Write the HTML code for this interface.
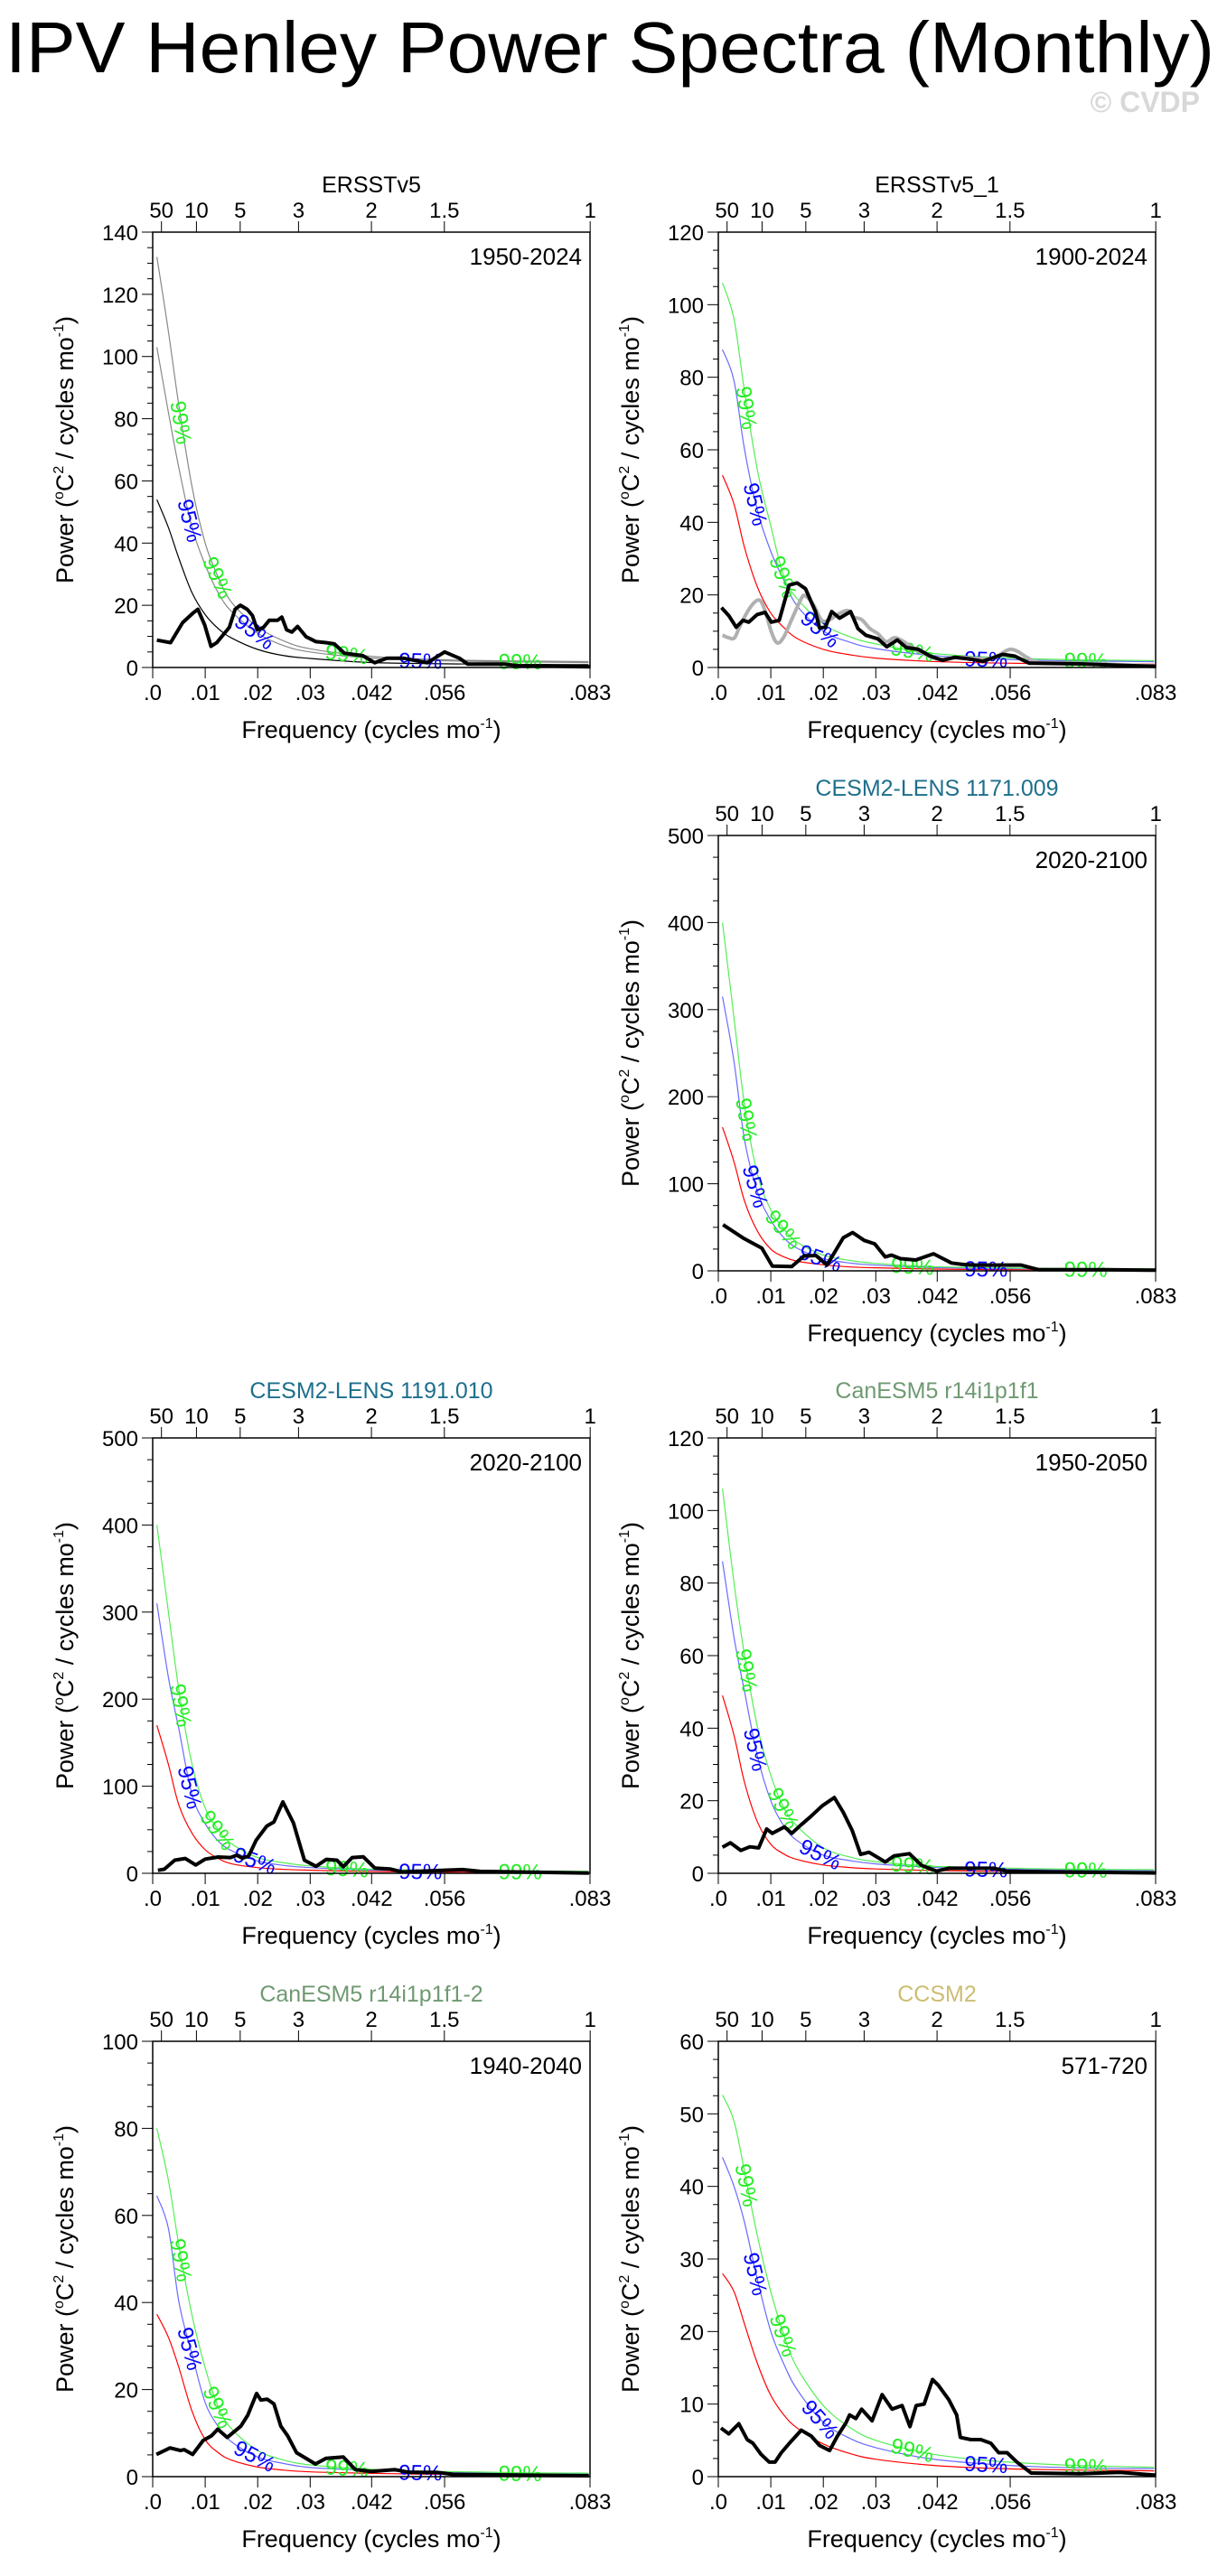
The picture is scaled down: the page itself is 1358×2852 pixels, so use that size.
<!DOCTYPE html>
<html><head><meta charset="utf-8">
<style>
html,body{margin:0;padding:0;background:#fff;}
svg{display:block;font-family:"Liberation Sans",sans-serif;}
</style></head>
<body>
<svg id="chart" width="1358" height="2852" viewBox="0 0 1358 2852" xmlns="http://www.w3.org/2000/svg">
<text x="6" y="80" font-size="80" textLength="1338" lengthAdjust="spacingAndGlyphs" fill="#000">IPV Henley Power Spectra (Monthly)</text>
<text x="1328" y="124" font-size="32" text-anchor="end" fill="#d8d8d8" font-weight="bold">© CVDP</text>
</svg>
<script>
// shared frequency grid for significance curves
const sigFreq = [0.0008,0.003,0.005,0.0075,0.01,0.0125,0.015,0.02,0.025,0.03,0.04,0.05,0.06,0.07,0.083];
const bottomTicks = [0,0.01,0.02,0.03,0.0417,0.0556,0.0833];
const bottomLabels = [".0",".01",".02",".03",".042",".056",".083"];
const periodYears = [50,10,5,3,2,1.5,1];
const periodLabels = ["50","10","5","3","2","1.5","1"];

// Panel 1: ERSSTv5
const p1Freq = [0.0008,0.0034,0.0057,0.0076,0.0086,0.0099,0.0111,0.0122,0.0146,0.0157,0.0167,0.018,0.019,0.0199,0.0211,0.0222,0.0238,0.0246,0.0255,0.0265,0.0276,0.0292,0.0311,0.033,0.0346,0.0365,0.04,0.0423,0.0446,0.0477,0.0523,0.0556,0.0584,0.06,0.0669,0.07,0.0746,0.0833];
const p1Val = [8.8,8.0,14.4,17.4,18.7,13.7,6.8,8.0,12.9,18.7,20,18.7,16.7,12.1,12.9,15.2,15.2,16.2,12.1,11.4,13.2,9.9,8.3,8.0,7.6,4.6,3.8,1.5,3.0,3.0,1.5,5.0,3.0,1.1,1.1,0.5,0.5,0.2];
const p1Red = [54,45,35,24,17,12.5,9.5,5.8,3.8,2.9,1.7,1.3,1.1,1,0.9];
const p1Blue = [103,82,64,45,33,24,18,11,7,5,3.2,2.4,2,1.8,1.6];
const p1Green = [132,108,84,58,40,29,21,13,8.5,6,3.8,2.8,2.3,2.1,1.9];

// Panel 2: ERSSTv5_1
const p2Freq = [0.0006,0.002,0.0034,0.0047,0.0058,0.0074,0.0089,0.0101,0.0116,0.0135,0.015,0.0166,0.0185,0.0193,0.0204,0.0216,0.0231,0.0252,0.0266,0.0281,0.0304,0.0321,0.0341,0.0358,0.0381,0.0404,0.0427,0.045,0.0481,0.0504,0.0542,0.0565,0.0592,0.0688,0.0765,0.0833];
const p2Val = [16.5,14.3,11.1,13,12.5,14.6,15.2,12.5,13,22.7,23.3,21.7,15.4,10.9,11.1,15.4,13.6,15.4,10.7,8.9,7.9,5.7,7.6,5.5,5,3.1,2,2.8,2.3,1.7,3.6,3.1,1.2,1,0.6,0.3];
const p2GrayFreq = [0.0008,0.002,0.0031,0.0043,0.0062,0.0078,0.0089,0.0101,0.0112,0.0124,0.0139,0.0158,0.0166,0.0181,0.0197,0.0212,0.0227,0.0246,0.0258,0.0273,0.0289,0.0304,0.032,0.0335,0.035,0.0381,0.0419,0.0458,0.0519,0.0557,0.0588,0.0611,0.0688,0.0833];
const p2GrayVal = [8.9,8.2,8.2,12,16.8,18.6,15.7,9.8,6.8,8.2,13,19,19.7,17.3,13,13.2,14.6,15.7,13.9,13.2,10.7,9.3,7.1,8.2,7.4,4.6,2.3,2.8,2.5,5,2.8,1.4,1.2,0.4];
const p2Red = [53,45,33,22,15,11,8,5,3.5,2.6,1.7,1.3,1.1,1,0.9];
const p2Blue = [87.6,79,60,43,32,24,17,10,7,5.2,3.4,2.5,2,1.8,1.6];
const p2Green = [106,96,76,54,39,25,19,12,8.5,6.5,4,3,2.4,2.1,1.9];

// Panel 3: CESM2-LENS 1171.009
const p3Freq = [0.0009,0.0049,0.0083,0.0103,0.014,0.0163,0.0186,0.0207,0.0238,0.0256,0.0278,0.0298,0.0318,0.033,0.0347,0.0376,0.041,0.0444,0.0467,0.049,0.0576,0.061,0.0737,0.0834];
const p3Val = [53,37,26,5.5,5,17,17.6,6.6,38,44,35,31,16,18,14,12.5,19.6,9,7.3,6.6,6.6,1.4,1.4,0.7];
const p3Red = [165,125,80,45,25,16,11,7,4.5,3.5,2.2,1.6,1.2,1,0.8];
const p3Blue = [315,240,150,90,58,38,26,14,9,6.5,4,3,2.5,2.2,2];
const p3Green = [400,290,190,110,70,48,33,18,12,8.5,5,3.8,3,2.6,2.3];

// Panel 4: CESM2-LENS 1191.010
const p4Freq = [0.001,0.0022,0.0042,0.0062,0.0082,0.01,0.0125,0.0148,0.016,0.0171,0.0183,0.0197,0.0217,0.0231,0.0248,0.0268,0.0289,0.0311,0.0331,0.0351,0.0363,0.038,0.0401,0.0423,0.0452,0.0475,0.0567,0.059,0.0624,0.0831];
const p4Val = [3.4,4.7,15,17,9.5,16.3,18.7,18,20.7,17.3,20,38,54,59,82,58,15,8,16,15,7.6,18,19,6,5,1.6,3.7,4.3,2.2,0.3];
const p4Red = [170,125,78,46,27,17,11,6.5,4.5,3.5,2.2,1.6,1.2,1,0.8];
const p4Blue = [310,225,165,90,57,37,26,14,9,6.5,4,3,2.5,2.2,2];
const p4Green = [400,300,210,125,75,50,34,18,12,8.5,5,3.8,3,2.6,2.3];

// Panel 5: CanESM5 r14i1p1f1
const p5Freq = [0.0008,0.0023,0.0043,0.006,0.0077,0.0092,0.0103,0.0126,0.014,0.0158,0.0175,0.0198,0.0221,0.0238,0.0255,0.0271,0.0287,0.0318,0.0335,0.0364,0.0387,0.0416,0.0439,0.0525,0.0548,0.0622,0.0834];
const p5Val = [7.2,8.4,6.3,7.3,7,12.2,11,12.8,11,13.4,15.5,18.6,20.9,16.8,11.8,5.2,5.8,3.1,4.8,5.4,2.2,0.6,1.4,1.4,0.6,0.4,0.1];
const p5Red = [49,38,25,14,8,5.3,3.8,2.3,1.6,1.2,0.8,0.6,0.5,0.4,0.4];
const p5Blue = [86,65,50,32,20,13,9,5,3.5,2.6,1.7,1.3,1,0.9,0.8];
const p5Green = [106,80,60,40,27,18,13,7,4.5,3.2,2,1.6,1.3,1.1,1];

// Panel 6: CanESM5 r14i1p1f1-2
const p6Freq = [0.0007,0.0033,0.0053,0.006,0.0076,0.0096,0.0112,0.0124,0.0142,0.0168,0.0181,0.0198,0.0206,0.0218,0.0231,0.0244,0.0257,0.0274,0.031,0.033,0.0363,0.0386,0.0416,0.0462,0.0488,0.0541,0.0574,0.0831];
const p6Val = [5.1,6.6,6.0,6.2,5.1,8.3,9.4,10.9,9,11.6,14.1,19.1,17.6,17.8,16.7,11.6,9.4,5.5,2.9,4.2,4.5,1.6,1.2,1.6,1.0,1.0,0.5,0.2];
const p6Red = [37.3,32,25,15,8.5,5.5,3.8,2.2,1.5,1.1,0.8,0.6,0.5,0.4,0.4];
const p6Blue = [64.5,57,40,28,17,11.5,8,4.5,3,2.1,1.5,1.1,0.9,0.8,0.7];
const p6Green = [80,68,53,37,25,16,11,6,3.8,2.7,1.8,1.3,1.1,0.9,0.8];

// Panel 7: CCSM2
const p7Freq = [0.0005,0.002,0.0039,0.0055,0.0066,0.0081,0.0097,0.0108,0.012,0.0139,0.0158,0.0177,0.0193,0.0212,0.0227,0.0243,0.025,0.0262,0.0273,0.0293,0.0312,0.0331,0.035,0.0365,0.0377,0.0392,0.0408,0.0419,0.0439,0.0454,0.0461,0.0481,0.05,0.0519,0.0534,0.055,0.0569,0.0596,0.0688,0.0765,0.0833];
const p7Val = [6.7,5.9,7.3,5.1,4.6,3.1,2.0,2.0,3.3,4.9,6.4,5.6,4.3,3.6,5.6,7.4,8.5,8.0,9.3,7.7,11.3,9.3,9.8,6.9,9.8,10,13.4,12.6,10.6,8.5,5.4,5.1,5.1,4.6,3.3,3.3,2.0,0.5,0.4,0.6,0.2];
const p7Red = [28,25.5,21,15.5,11.2,8.5,6.7,4.5,3.2,2.4,1.6,1.2,1,0.9,0.8];
const p7Blue = [44,40,35,27,20,15.5,12,7.5,5.3,4,2.5,1.8,1.4,1.2,1.1];
const p7Green = [52.6,49,42,33,25.5,19.5,15,9.8,6.8,5,3.2,2.3,1.8,1.5,1.3];

const panels = [
 {id:'ersstv5',title:'ERSSTv5',tcol:'#000',years:'1950-2024',col:0,row:0,ymax:140,ystep:20,f:p1Freq,v:p1Val,red:p1Red,blue:p1Blue,green:p1Green,gray:true},
 {id:'ersstv5-1',title:'ERSSTv5_1',tcol:'#000',years:'1900-2024',col:1,row:0,ymax:120,ystep:20,f:p2Freq,v:p2Val,red:p2Red,blue:p2Blue,green:p2Green,gf:p2GrayFreq,gv:p2GrayVal},
 {id:'cesm2-1171',title:'CESM2-LENS 1171.009',tcol:'#1d6f8c',years:'2020-2100',col:1,row:1,ymax:500,ystep:100,f:p3Freq,v:p3Val,red:p3Red,blue:p3Blue,green:p3Green},
 {id:'cesm2-1191',title:'CESM2-LENS 1191.010',tcol:'#1d6f8c',years:'2020-2100',col:0,row:2,ymax:500,ystep:100,f:p4Freq,v:p4Val,red:p4Red,blue:p4Blue,green:p4Green},
 {id:'canesm5',title:'CanESM5 r14i1p1f1',tcol:'#6f9a72',years:'1950-2050',col:1,row:2,ymax:120,ystep:20,f:p5Freq,v:p5Val,red:p5Red,blue:p5Blue,green:p5Green},
 {id:'canesm5-2',title:'CanESM5 r14i1p1f1-2',tcol:'#6f9a72',years:'1940-2040',col:0,row:3,ymax:100,ystep:20,f:p6Freq,v:p6Val,red:p6Red,blue:p6Blue,green:p6Green},
 {id:'ccsm2',title:'CCSM2',tcol:'#cdbd72',years:'571-720',col:1,row:3,ymax:60,ystep:10,f:p7Freq,v:p7Val,red:p7Red,blue:p7Blue,green:p7Green}
];

const NS='http://www.w3.org/2000/svg';
const svg=document.getElementById('chart');
const colX=[169,795], rowY=[257,925,1592,2260], W=484, H=482, FMAX=0.0833;
function mk(tag,attrs,parent){const e=document.createElementNS(NS,tag);for(const k in attrs)e.setAttribute(k,attrs[k]);(parent||svg).appendChild(e);return e;}
function catmull(pts){
  if(pts.length<2)return '';
  let d='M'+pts[0][0].toFixed(1)+','+pts[0][1].toFixed(1);
  for(let i=0;i<pts.length-1;i++){
    const p0=pts[Math.max(0,i-1)],p1=pts[i],p2=pts[i+1],p3=pts[Math.min(pts.length-1,i+2)];
    const c1=[p1[0]+(p2[0]-p0[0])/6,p1[1]+(p2[1]-p0[1])/6];
    const c2=[p2[0]-(p3[0]-p1[0])/6,p2[1]-(p3[1]-p1[1])/6];
    d+='C'+c1[0].toFixed(1)+','+c1[1].toFixed(1)+' '+c2[0].toFixed(1)+','+c2[1].toFixed(1)+' '+p2[0].toFixed(1)+','+p2[1].toFixed(1);
  }
  return d;
}
function interp(fs,vs,f){
  if(f<=fs[0])return vs[0];
  for(let i=0;i<fs.length-1;i++){if(f<=fs[i+1]){const t=(f-fs[i])/(fs[i+1]-fs[i]);return vs[i]+t*(vs[i+1]-vs[i]);}}
  return vs[vs.length-1];
}

panels.forEach(p=>{
  const L=colX[p.col], T=rowY[p.row], B=T+H, R=L+W;
  const xs=f=>L+f/FMAX*W;
  const ys=v=>B-Math.min(v,p.ymax)/p.ymax*H;
  const g=mk('g',{});
  
  

  const t=mk('text',{x:L+W/2,y:T-44,'font-size':25,'text-anchor':'middle',fill:p.tcol},g);
  
  
  t.textContent=p.title;
  const yr=mk('text',{x:R-9,y:T+36,'font-size':26,'text-anchor':'end',fill:'#000'},g);
  
  
  yr.textContent=p.years;

  const yax=mk('g',{},g);
  
  
  const minor=p.ystep/4;
  for(let v=0;v<=p.ymax+1e-9;v+=minor){
    const isMaj=Math.abs(v/p.ystep-Math.round(v/p.ystep))<1e-6;
    mk('line',{x1:L-(isMaj?12:6),x2:L,y1:ys(v),y2:ys(v),stroke:'#000','stroke-width':1},yax);
    if(isMaj){
      const lb=mk('text',{x:L-16,y:ys(v)+9,'font-size':24,'text-anchor':'end'},yax);
      
      
      lb.textContent=String(Math.round(v));
    }
  }
  const yt=mk('text',{x:0,y:0,'font-size':27,'text-anchor':'middle',transform:`translate(${L-88},${T+H/2}) rotate(-90)`},g);
  
  
  yt.innerHTML='Power (<tspan font-size="16" dy="-11">o</tspan><tspan dy="11">C</tspan><tspan font-size="16" dy="-11">2</tspan><tspan dy="11"> / cycles mo</tspan><tspan font-size="16" dy="-11">-1</tspan><tspan dy="11">)</tspan>';

  const xax=mk('g',{},g);
  
  
  bottomTicks.forEach((f,i)=>{
    mk('line',{x1:xs(f),x2:xs(f),y1:B,y2:B+12,stroke:'#000','stroke-width':1},xax);
    const lb=mk('text',{x:xs(f),y:B+36,'font-size':24,'text-anchor':'middle'},xax);
    
    
    lb.textContent=bottomLabels[i];
  });
  const xt=mk('text',{x:L+W/2,y:B+78,'font-size':27,'text-anchor':'middle'},g);
  
  
  xt.innerHTML='Frequency (cycles mo<tspan font-size="16" dy="-11">-1</tspan><tspan dy="11">)</tspan>';

  const tax=mk('g',{},g);
  
  
  periodYears.forEach((P,i)=>{
    const f=1/(12*P);
    mk('line',{x1:xs(f),x2:xs(f),y1:T-12,y2:T,stroke:'#000','stroke-width':1},tax);
    const lb=mk('text',{x:xs(f),y:T-16,'font-size':24,'text-anchor':'middle'},tax);
    
    
    lb.textContent=periodLabels[i];
  });

  const cRed=p.gray?'#000':'#ff0000', cBlue=p.gray?'#888':'#6a6aff', cGreen=p.gray?'#888':'#55ee55';
  const sig=[[p.red,cRed,'red-noise-curve'],[p.blue,cBlue,'sig95-curve'],[p.green,cGreen,'sig99-curve']];
  sig.forEach(([arr,c,nm])=>{
    const pts=sigFreq.map((f,i)=>[xs(f),ys(arr[i])]);
    const el=mk('path',{d:catmull(pts),fill:'none',stroke:c,'stroke-width':1.2},g);
    
    
  });
  const labs=[[0.0055,'green','99%'],[0.0072,'blue','95%'],[0.0125,'green','99%'],[0.0195,'blue','95%'],[0.037,'green','99%'],[0.051,'blue','95%'],[0.07,'green','99%']];
  labs.forEach(([f,which,txt])=>{
    const arr=which==='green'?p.green:p.blue;
    const x1=xs(f-0.0008),x2=xs(f+0.0008),y1=ys(interp(sigFreq,arr,f-0.0008)),y2=ys(interp(sigFreq,arr,f+0.0008));
    let ang=Math.atan2(y2-y1,x2-x1)*180/Math.PI;
    const cx=xs(f), cy=ys(interp(sigFreq,arr,f));
    const lb=mk('text',{x:0,y:9,'font-size':24,'text-anchor':'middle',fill:which==='green'?'#22ee22':'#0000ff',transform:`translate(${cx.toFixed(1)},${cy.toFixed(1)}) rotate(${ang.toFixed(1)})`},g);
    
    
    lb.textContent=txt;
  });

  if(p.gf){
    const el=mk('path',{d:catmull(p.gf.map((f,i)=>[xs(f),ys(p.gv[i])])),fill:'none',stroke:'#b0b0b0','stroke-width':4,'stroke-linejoin':'round'},g);
    
    
  }
  const sp=mk('path',{d:'M'+p.f.map((f,i)=>xs(f).toFixed(1)+','+ys(p.v[i]).toFixed(1)).join('L'),fill:'none',stroke:'#000','stroke-width':4,'stroke-linejoin':'round'},g);
  
  

  const fr=mk('rect',{x:L,y:T,width:W,height:H,fill:'none',stroke:'#000','stroke-width':1.5},g);
  
  
});
</script>
</body></html>
